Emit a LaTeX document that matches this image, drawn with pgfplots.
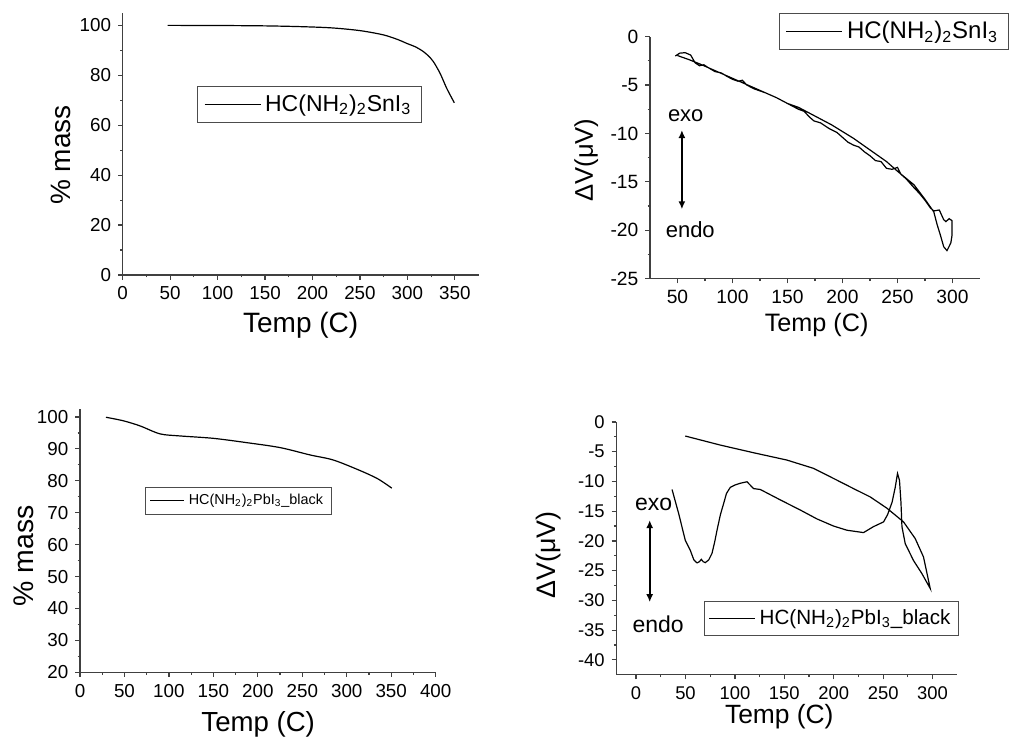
\documentclass[border=0pt]{standalone}
\usepackage{fontspec}
\setmainfont{Liberation Sans}
\usepackage{pgfplots}
\pgfplotsset{compat=1.18}
\usetikzlibrary{arrows.meta}

\newcommand{\fs}[1]{\fontsize{#1}{#1}\selectfont}

\pgfplotsset{
  panel/.style={
    scale only axis, anchor=south west, clip=false,
    axis x line=bottom, axis y line=left, axis line style={-, line width=0.6pt, black!75},
    tick align=outside, major tick length=2.3pt, minor tick length=1.2pt,
    every tick/.style={line width=0.6pt, black!75},
    minor x tick num=1, minor y tick num=1,
    /pgf/number format/assume math mode=true,
    legend cell align=left,
    legend image code/.code={\draw[#1] (0pt,0pt) -- (28pt,0pt);},
  },
  curve/.style={black, line width=0.6pt, no markers},
}

\begin{document}
\begin{tikzpicture}
\path[use as bounding box] (0,0) rectangle (514.5pt,370pt);

% top left: TGA Sn
\begin{axis}[panel,
  at={(61.35pt,232.5pt)}, width=177.95pt, height=131.05pt,
  xmin=0, xmax=375, ymin=0, ymax=105,
  xtick={0,50,...,350}, ytick={0,20,...,100},
  tick label style={font=\fs{9.4}},
  xlabel={Temp (C)}, ylabel={\% mass},
  xlabel style={font=\fs{14}, at={(axis description cs:0.5,-0.221)}, anchor=base},
  ylabel style={font=\fs{14}, at={(axis description cs:-0.148,0.458)}, anchor=base},
  legend style={font=\fs{11.5}, at={(axis description cs:0.21,0.721)}, anchor=north west,
    draw=black!70, line width=0.5pt, inner xsep=3pt, inner ysep=2pt},
]
\addplot[curve, smooth] coordinates {
(47.4,100) (100,99.95) (150,99.8) (186.8,99.5) (220,99.0) (250,97.9) (274.6,96.2)
(290,94.3) (299.2,92.8) (309,91.3) (316.8,89.5) (322,87.8) (327.3,85.5) (334.4,80.8)
(341.4,74.8) (349.4,69)
};
\addlegendentry{HC(NH\textsubscript{2})\textsubscript{2}SnI\textsubscript{3}}
\end{axis}

% top right: DTA Sn
\begin{axis}[panel,
  at={(325pt,230.65pt)}, width=165pt, height=121pt,
  xmin=25, xmax=325, ymin=-25, ymax=0,
  xtick={50,100,...,300}, ytick={-25,-20,...,0},
  tick label style={font=\fs{9.6}},
  xlabel={Temp (C)}, ylabel={ΔV(μV)},
  xlabel style={font=\fs{12.6}, at={(axis description cs:0.505,-0.217)}, anchor=base},
  ylabel style={font=\fs{12.8}, at={(axis description cs:-0.173,0.49)}, anchor=base},
  legend style={font=\fs{12}, at={(axis description cs:0.392,1.099)}, anchor=north west,
    draw=black!70, line width=0.5pt, inner xsep=3pt, inner ysep=2pt},
]
\addplot[curve] coordinates {
(48,-2.0) (52,-1.7) (57,-1.65) (62,-1.9) (66,-2.7) (70,-3.0) (74,-2.9) (78,-3.2)
(84,-3.6) (90,-3.75) (95,-4.1) (100,-4.4) (105,-4.6) (109,-4.5) (113,-5.0) (120,-5.4)
(130,-5.8) (140,-6.3) (150,-6.9) (160,-7.5) (165,-7.7) (170,-8.3) (174,-8.7) (180,-8.9)
(188,-9.5) (195,-9.9) (200,-10.4) (205,-10.9) (210,-11.2) (215,-11.4) (220,-11.9)
(225,-12.3) (230,-12.8) (235,-12.9) (240,-13.6) (245,-13.7) (250,-13.5) (253,-14.2)
(258,-14.7) (265,-15.6) (270,-16.2) (275,-16.9) (280,-17.7) (283,-18.0) (288,-17.9)
(292,-18.9) (294,-19.1) (297,-18.8) (299.5,-19.0) (299.6,-20.5) (298.5,-21.3)
(295,-22.1) (292,-21.7) (289,-20.5) (286,-19.4) (283,-18.1)
(275,-16.8) (265,-15.3) (250,-13.9) (240,-12.9) (230,-12.1) (220,-11.3) (210,-10.5)
(200,-9.8) (190,-9.1) (180,-8.5) (170,-7.9) (160,-7.3) (150,-6.9) (140,-6.3)
(130,-5.8) (120,-5.3) (110,-4.8) (100,-4.3) (90,-3.8) (80,-3.3) (70,-2.8) (60,-2.35) (50,-1.95)
};
\addlegendentry{HC(NH\textsubscript{2})\textsubscript{2}SnI\textsubscript{3}}
\node[font=\fs{11}] at (axis cs:57.5,-8.16) {exo};
\node[font=\fs{11}] at (axis cs:61.6,-19.97) {endo};
\draw[{Latex[length=4pt,width=3.5pt]}-{Latex[length=4pt,width=3.5pt]}, line width=0.9pt] (axis cs:54,-9.64) -- (axis cs:54,-17.83);
\end{axis}

% bottom left: TGA Pb
\begin{axis}[panel,
  at={(40pt,33.85pt)}, width=177.85pt, height=131.5pt,
  xmin=0, xmax=400, ymin=20, ymax=102.4,
  xtick={0,50,...,400}, ytick={20,30,...,100},
  tick label style={font=\fs{9.4}},
  xlabel={Temp (C)}, ylabel={\% mass},
  xlabel style={font=\fs{13.8}, at={(axis description cs:0.501,-0.225)}, anchor=base},
  ylabel style={font=\fs{14.2}, at={(axis description cs:-0.131,0.443)}, anchor=base},
  legend style={font=\fs{7.2}, at={(axis description cs:0.183,0.706)}, anchor=north west,
    draw=black!70, line width=0.5pt, inner xsep=2pt, inner ysep=1.5pt},
  legend image code/.code={\draw[#1] (0pt,0pt) -- (17pt,0pt);},
]
\addplot[curve, smooth] coordinates {
(29.2,99.9) (48.7,98.8) (67.5,97.2) (90,94.7) (112.5,94.05) (150,93.3) (187.5,91.95)
(225,90.4) (258.7,88.1) (285,86.5) (315,83.2) (335,80.6) (350.6,77.7)
};
\addlegendentry{HC(NH\textsubscript{2})\textsubscript{2}PbI\textsubscript{3}\_black}
\end{axis}

% bottom right: DTA Pb
\begin{axis}[panel,
  at={(308.15pt,32.65pt)}, width=170.5pt, height=126.35pt,
  xmin=-20, xmax=325, ymin=-42.5, ymax=0,
  xtick={0,50,...,300}, ytick={-40,-35,...,0},
  tick label style={font=\fs{9.2}},
  xlabel={Temp (C)}, ylabel={ΔV(μV)},
  xlabel style={font=\fs{13.2}, at={(axis description cs:0.478,-0.195)}, anchor=base},
  ylabel style={font=\fs{13.4}, at={(axis description cs:-0.177,0.474)}, anchor=base},
  legend style={font=\fs{10.3}, at={(axis description cs:0.257,0.292)}, anchor=north west,
    draw=black!70, line width=0.5pt, inner xsep=2pt, inner ysep=2pt},
  legend image code/.code={\draw[#1] (0pt,0pt) -- (23pt,0pt);},
]
\addplot[curve] coordinates {
(36.4,-11.35) (43.1,-15.4) (49.8,-19.9) (54.9,-21.6) (58.5,-23.2) (61.7,-23.7) (64,-23.5)
(66,-23.1) (68,-23.5) (70,-23.65) (73.5,-23.2) (76.8,-22.1) (79.5,-20.2) (81.9,-18.2)
(85.3,-15.6) (88.6,-13.7) (91.5,-12.0) (95.3,-11.0) (100,-10.6) (105.5,-10.3) (112.2,-10.05)
(118.9,-11.2) (125.7,-11.35) (145.9,-13.1) (166.1,-14.8) (183,-16.3) (199.8,-17.5)
(213.3,-18.2) (230.1,-18.6) (240.2,-17.6) (250.4,-16.8) (254.4,-15.6) (259,-13.5)
(262.2,-11.0) (264.5,-8.65) (266.5,-9.8) (268,-13.5) (269,-17.6) (272.3,-20.45)
(280.7,-23.3) (289.2,-25.5) (297.6,-28.0)
(290.8,-22.7) (282.4,-19.6) (270.6,-16.8) (253.8,-14.5) (236.9,-12.6) (220,-11.2)
(203.2,-9.78) (179.6,-7.8) (152.6,-6.4) (118.9,-5.17) (85.2,-3.88) (49.8,-2.36)
};
\addlegendentry{HC(NH\textsubscript{2})\textsubscript{2}PbI\textsubscript{3}\_black}
\node[font=\fs{11.5}] at (axis cs:17.8,-13.8) {exo};
\node[font=\fs{11.5}] at (axis cs:22.4,-34.1) {endo};
\draw[{Latex[length=4pt,width=3.5pt]}-{Latex[length=4pt,width=3.5pt]}, line width=0.9pt] (axis cs:13.8,-16.5) -- (axis cs:13.8,-30.3);
\end{axis}
\end{tikzpicture}
\end{document}
